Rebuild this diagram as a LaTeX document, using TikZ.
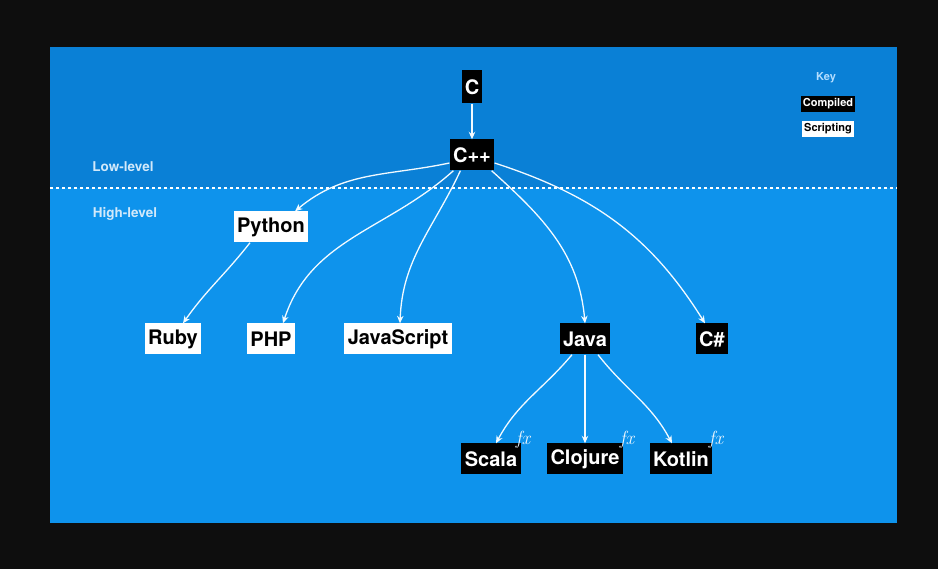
\documentclass[tikz,border=0pt]{standalone}
\usepackage{fontspec}
\setmainfont{TeX Gyre Heros}
\newfontfamily\fxfont{Latin Modern Roman}
\usetikzlibrary{arrows.meta}
\definecolor{outer}{HTML}{0E0E0E}
\definecolor{topblue}{HTML}{0A80D6}
\definecolor{lowblue}{HTML}{0E93EC}
\definecolor{lbltxt}{HTML}{D2E9FA}
\definecolor{keytxt}{HTML}{B4DEFF}
\definecolor{arr}{HTML}{F2FAFF}
\tikzset{
  lang/.style={font=\fontsize{20}{24}\selectfont\bfseries, inner xsep=3.5pt, inner ysep=0pt, minimum height=31pt},
  compiled/.style={lang, fill=black, text=white},
  scripting/.style={lang, fill=white, text=black},
  keybox/.style={font=\fontsize{11}{13}\selectfont\bfseries, inner xsep=1.8pt, inner ysep=0pt, minimum height=16pt},
  levellbl/.style={font=\fontsize{13.5}{16}\selectfont\bfseries, text=lbltxt},
  fxlbl/.style={text=white!92!lowblue, font=\fxfont\itshape\fontsize{19}{22}\selectfont, inner sep=0pt},
  conn/.style={draw=arr, line width=1.3pt, -{Stealth[length=7.5pt,width=6.5pt]}}
}
\begin{document}
\begin{tikzpicture}[x=1pt,y=1pt]
\useasboundingbox (0,0) rectangle (938,-569);
\fill[outer] (0,0) rectangle (938,-569);
\fill[lowblue] (50,-47) rectangle (897,-523);
\fill[topblue] (50,-47) rectangle (897,-188);
\draw[white, line width=1.3pt, dash pattern=on 3pt off 3pt] (50,-188) -- (897,-188);

\node[levellbl] (low) at (123,-167) {Low-level};
\node[levellbl] (high) at (125,-214) {High-level};

\node[font=\fontsize{11}{13}\selectfont\bfseries, text=keytxt] (key) at (826,-78) {Key};
\node[keybox, fill=black, text=white] (kc) at (828,-104) {Compiled};
\node[keybox, fill=white, text=black] (ks) at (828,-129) {Scripting};

\node[compiled, minimum height=33pt, inner xsep=3pt] (c) at (472,-87) {C};
\node[compiled] (cpp) at (472,-155) {C++};
\node[scripting] (py) at (271,-227) {Python};
\node[scripting] (ruby) at (173,-339) {Ruby};
\node[scripting] (php) at (271,-339) {PHP};
\node[scripting] (js) at (398,-339) {JavaScript};
\node[compiled] (java) at (585,-339) {Java};
\node[compiled] (cs) at (712,-339) {C\#};
\node[compiled] (scala) at (491,-459) {Scala};
\node[compiled] (clj) at (585,-459) {Clojure};
\node[compiled] (kt) at (681,-459) {Kotlin};

\node[fxlbl] (fx1) at (523,-440) {fx};
\node[fxlbl] (fx2) at (627,-440) {fx};
\node[fxlbl] (fx3) at (716,-440) {fx};

\draw[conn] (c) -- (cpp);
\draw[conn] ([yshift=-8pt]cpp.west) to[out=192,in=40] ([xshift=24pt]py.north);
\draw[conn] ([xshift=4pt]cpp.south west) to[out=222,in=72] ([xshift=12pt]php.north);
\draw[conn] ([xshift=11pt]cpp.south west) to[out=245,in=88] ([xshift=2pt]js.north);
\draw[conn] ([xshift=-3pt]cpp.south east) to[out=-42,in=95] (java.north);
\draw[conn] ([yshift=-8pt]cpp.east) to[out=-18,in=122] ([xshift=-7pt]cs.north);
\draw[conn] ([xshift=-21pt]py.south) to[out=-128,in=55] ([xshift=10pt]ruby.north);
\draw[conn] ([xshift=-13pt]java.south) to[out=-130,in=62] ([xshift=5pt]scala.north);
\draw[conn] (java.south) -- (clj.north);
\draw[conn] ([xshift=13pt]java.south) to[out=-52,in=118] ([xshift=-9pt]kt.north);
\end{tikzpicture}
\end{document}
